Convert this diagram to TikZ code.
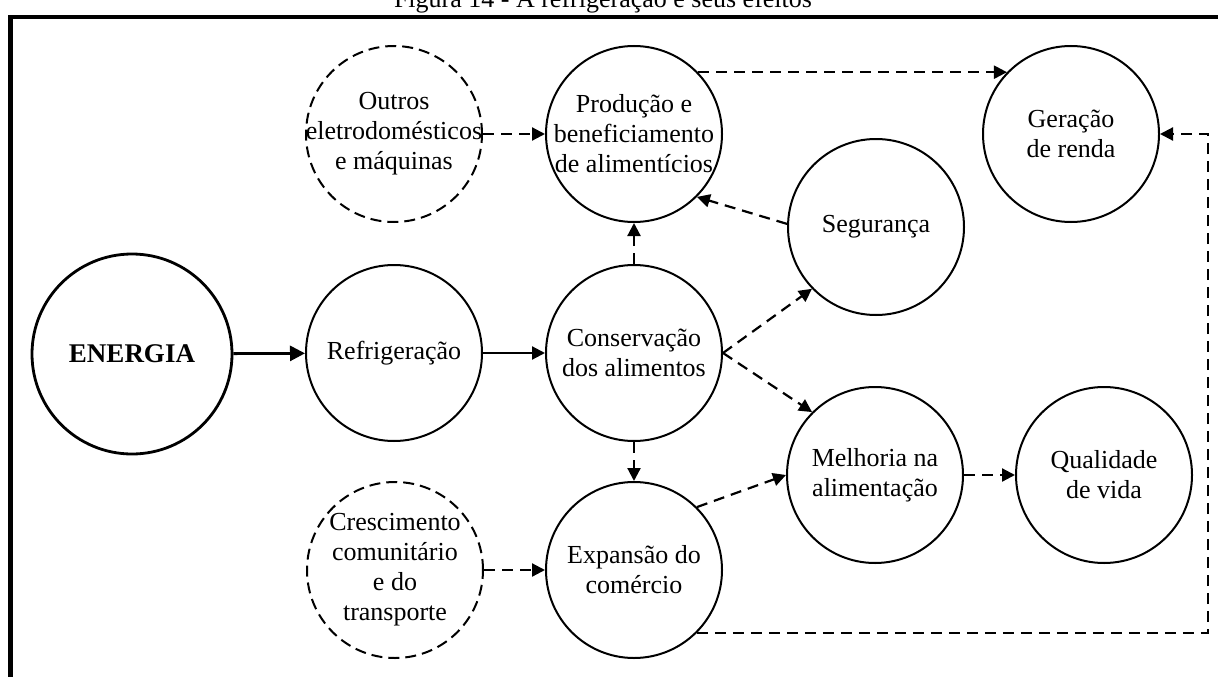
\documentclass[tikz,border=0pt]{standalone}
\usepackage{fontspec}
\setmainfont{Liberation Serif}
\usetikzlibrary{arrows.meta}
\begin{document}
\begin{tikzpicture}[x=1pt,y=-1pt,
  every node/.style={font=\fontsize{26}{30}\selectfont, align=center, inner sep=0pt},
  bubble/.style={circle, draw, line width=2pt, minimum size=176pt, inner sep=-40pt},
  ghost/.style={bubble, dash pattern=on 11pt off 6pt},
  link/.style={line width=2.2pt, -{Triangle[length=13pt,width=13pt]}},
  dlink/.style={link, dash pattern=on 11pt off 7pt},
]
\useasboundingbox (0,0) rectangle (1218,677);

% caption and frame
\node[anchor=base, font=\fontsize{26}{30}\selectfont] (title) at (603,8) {Figura 14 - A refrigeração e seus efeitos};
\draw[line width=4.5pt] (1218,17) -- (10.5,17) -- (10.5,677);

% circles
\node[bubble, line width=2.8pt, minimum size=200pt, font=\bfseries\fontsize{27}{30}\selectfont] (energia) at (132,354) {ENERGIA};
\node[bubble] (refrig) at (394,353) {Refrigeração};
\node[bubble] (cons) at (634,353) {Conservação\\dos alimentos};
\node[bubble] (prod) at (634,134) {Produção e\\beneficiamento\\de alimentícios};
\node[ghost] (outros) at (394,134) {Outros\\eletrodomésticos\\e máquinas};
\node[bubble] (seg) at (876,227) {Segurança};
\node[bubble] (ger) at (1071,134) {Geração\\de renda};
\node[bubble] (mel) at (875,475) {Melhoria na\\alimentação};
\node[bubble] (qual) at (1104,475) {Qualidade\\de vida};
\node[bubble] (exp) at (634,570) {Expansão do\\comércio};
\node[ghost] (cresc) at (395,570) {Crescimento\\comunitário\\e do\\transporte};

% connectors
\draw[link, line width=2.8pt, -{Triangle[length=15pt,width=15pt]}] (energia) -- (refrig);
\draw[link] (refrig) -- (cons);
\draw[dlink] (outros) -- (prod);
\draw[dlink] (cons) -- (prod);
\draw[dlink] (cons) -- (exp);
\draw[dlink] (cresc) -- (exp);
\draw[dlink] (seg.178) -- (prod.-45);
\draw[dlink] (cons.east) -- (seg.224);
\draw[dlink] (cons.east) -- (mel.135);
\draw[dlink] (exp.45) -- (mel.west);
\draw[dlink] (mel) -- (qual);
\draw[dlink] (prod.44) -- (ger.136);
\coordinate (turn) at (1208,134);
\draw[dlink] (exp.-45) -| (turn) -- (ger.east);
\end{tikzpicture}
\end{document}
